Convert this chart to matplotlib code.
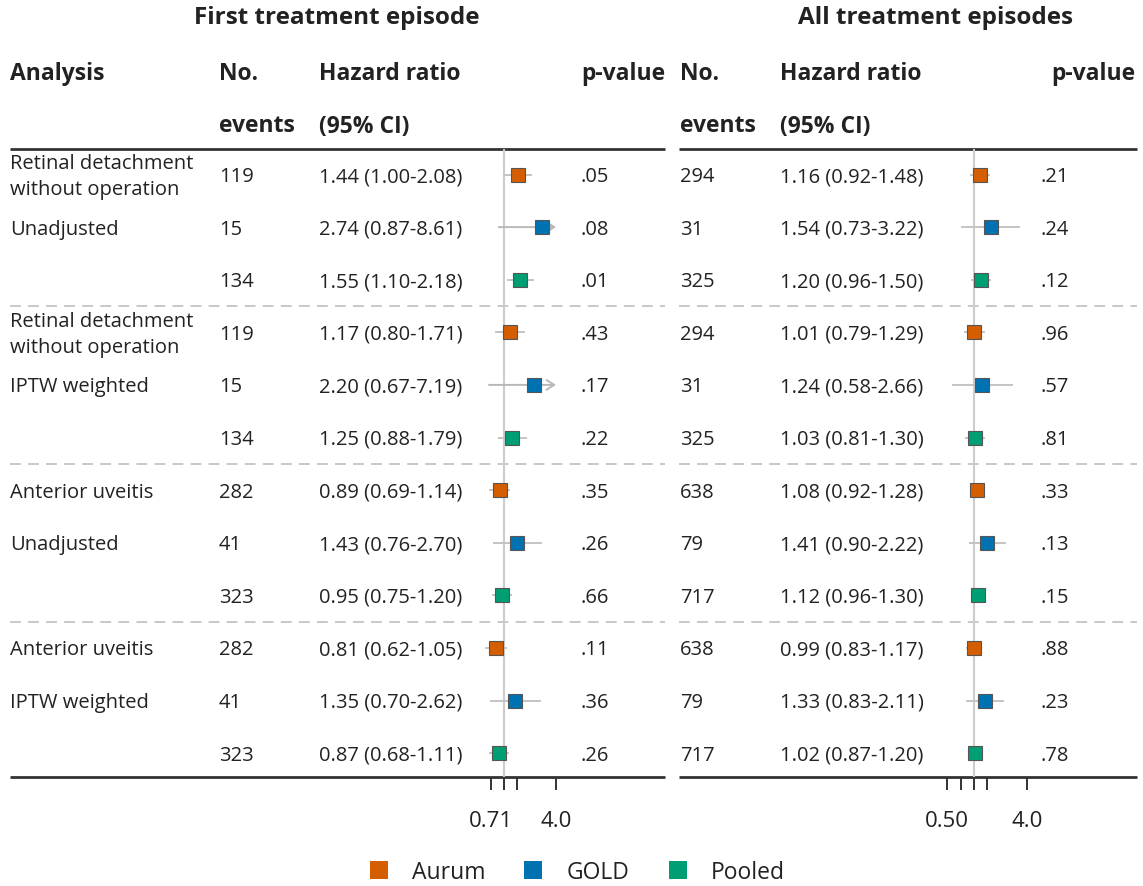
import numpy as np
import matplotlib
matplotlib.use("Agg")
import matplotlib.pyplot as plt
from matplotlib.lines import Line2D

plt.rcParams['font.family'] = ['Open Sans', 'DejaVu Sans']

# ---------------- data ----------------
analysis_labels = ["Retinal detachment\nwithout operation", "Unadjusted", "",
                   "Retinal detachment\nwithout operation", "IPTW weighted", "",
                   "Anterior uveitis", "Unadjusted", "",
                   "Anterior uveitis", "IPTW weighted", ""]
cohorts = ["Aurum", "GOLD", "Pooled"] * 4

first_events = [119, 15, 134, 119, 15, 134, 282, 41, 323, 282, 41, 323]
first_hr = [1.44, 2.74, 1.55, 1.17, 2.20, 1.25, 0.89, 1.43, 0.95, 0.81, 1.35, 0.87]
first_lo = [1.00, 0.87, 1.10, 0.80, 0.67, 0.88, 0.69, 0.76, 0.75, 0.62, 0.70, 0.68]
first_hi = [2.08, 8.61, 2.18, 1.71, 7.19, 1.79, 1.14, 2.70, 1.20, 1.05, 2.62, 1.11]
first_p = [".05", ".08", ".01", ".43", ".17", ".22", ".35", ".26", ".66", ".11", ".36", ".26"]

all_events = [294, 31, 325, 294, 31, 325, 638, 79, 717, 638, 79, 717]
all_hr = [1.16, 1.54, 1.20, 1.01, 1.24, 1.03, 1.08, 1.41, 1.12, 0.99, 1.33, 1.02]
all_lo = [0.92, 0.73, 0.96, 0.79, 0.58, 0.81, 0.92, 0.90, 0.96, 0.83, 0.83, 0.87]
all_hi = [1.48, 3.22, 1.50, 1.29, 2.66, 1.30, 1.28, 2.22, 1.30, 1.17, 2.11, 1.20]
all_p = [".21", ".24", ".12", ".96", ".57", ".81", ".33", ".13", ".15", ".88", ".23", ".78"]

first_ticks = [0.71, 1.0, 1.41, 4.0]
first_ticklabels = ["0.71", "", "", "4.0"]
all_ticks = [0.5, 0.71, 1.0, 1.41, 4.0]
all_ticklabels = ["0.50", "", "", "", "4.0"]

colors = {"Aurum": "#D55E00", "GOLD": "#0072B2", "Pooled": "#009E73"}
clip_hi = 4.0

# ---------------- layout ----------------
W, H = 1143, 887
fig = plt.figure(figsize=(W / 100, H / 100), dpi=100)
bg = fig.add_axes([0, 0, 1, 1])
bg.set_xlim(0, W)
bg.set_ylim(H, 0)
bg.axis("off")

FS = 14.5
FSB = 16.5
TXT = "#222222"
row0, dy = 175.5, 52.6
rows_y = [row0 + dy * i for i in range(12)]
top_line, bot_line = 150, 778
toff = 1.5

panels = [
    dict(title="First treatment episode", tx=337, x0=10, x1=665,
         ev=219, hrx=319, pvx=581, pvh=665, ref=504, ppu=26.0,
         events=first_events, hr=first_hr, lo=first_lo, hi=first_hi, p=first_p,
         ticks=first_ticks, tlabels=first_ticklabels, analysis=True),
    dict(title="All treatment episodes", tx=935, x0=679, x1=1137,
         ev=680, hrx=780, pvx=1041, pvh=1135, ref=974, ppu=26.67,
         events=all_events, hr=all_hr, lo=all_lo, hi=all_hi, p=all_p,
         ticks=all_ticks, tlabels=all_ticklabels, analysis=False),
]

for P in panels:
    bg.text(P["tx"], 18, P["title"], ha="center", va="center", fontsize=17.5,
            fontweight="bold", color=TXT)
    if P["analysis"]:
        bg.text(10, 72 + toff, "Analysis", ha="left", va="center", fontsize=FSB,
                fontweight="bold", color=TXT)
    bg.text(P["ev"], 72 + toff, "No.", ha="left", va="center", fontsize=FSB, fontweight="bold", color=TXT)
    bg.text(P["ev"], 125 + toff, "events", ha="left", va="center", fontsize=FSB, fontweight="bold", color=TXT)
    bg.text(P["hrx"], 72 + toff, "Hazard ratio", ha="left", va="center", fontsize=FSB, fontweight="bold", color=TXT)
    bg.text(P["hrx"], 125 + toff, "(95% CI)", ha="left", va="center", fontsize=FSB, fontweight="bold", color=TXT)
    bg.text(P["pvh"], 72 + toff, "p-value", ha="right", va="center", fontsize=FSB, fontweight="bold", color=TXT)

    bg.plot([P["x0"], P["x1"]], [top_line, top_line], color="#333333", lw=2, solid_capstyle="butt")
    bg.plot([P["x0"], P["x1"]], [bot_line, bot_line], color="#333333", lw=2, solid_capstyle="butt")
    for k in (3, 6, 9):
        yy = (rows_y[k - 1] + rows_y[k]) / 2
        bg.plot([P["x0"], P["x1"]], [yy, yy], color="#c4c4c4", lw=1.3, ls=(0, (6, 4)))

    for i, y in enumerate(rows_y):
        yt = y + toff
        if P["analysis"] and analysis_labels[i]:
            bg.text(10, yt, analysis_labels[i], ha="left", va="center", fontsize=FS,
                    color=TXT, linespacing=1.42)
        bg.text(P["ev"], yt, str(P["events"][i]), ha="left", va="center", fontsize=FS, color=TXT)
        bg.text(P["hrx"], yt, f"{P['hr'][i]:.2f} ({P['lo'][i]:.2f}-{P['hi'][i]:.2f})",
                ha="left", va="center", fontsize=FS, color=TXT)
        bg.text(P["pvx"], yt, P["p"][i], ha="left", va="center", fontsize=FS, color=TXT)

    # forest axes, log2 scale
    xlo, xhi = 0.4, 6.0
    left_px = P["ref"] - P["ppu"] * np.log2(1 / xlo)
    width_px = P["ppu"] * np.log2(xhi / xlo)
    ax = fig.add_axes([left_px / W, 1 - bot_line / H, width_px / W, (bot_line - top_line) / H])
    ax.set_xscale("log", base=2)
    ax.set_xlim(xlo, xhi)
    ax.set_ylim((bot_line - row0) / dy, (top_line - row0) / dy)
    ax.patch.set_alpha(0)
    for s in ax.spines.values():
        s.set_visible(False)
    ax.set_yticks([])
    ax.axvline(1.0, color="#cccccc", lw=1.5, zorder=1)
    for i in range(12):
        lo, hi, hr = P["lo"][i], P["hi"][i], P["hr"][i]
        if hi > clip_hi:
            ax.annotate("", xy=(clip_hi, i), xytext=(lo, i),
                        arrowprops=dict(arrowstyle="->,head_length=0.55,head_width=0.35",
                                        color="#b8b8b8", lw=1.4, shrinkA=0, shrinkB=0),
                        zorder=2)
        else:
            ax.plot([lo, hi], [i, i], color="#c4c4c4", lw=1.4, zorder=2)
        ax.plot([hr], [i], marker="s", ms=10, color=colors[cohorts[i]],
                mec="#555555", mew=0.8, zorder=3)
    ax.set_xticks(P["ticks"])
    ax.set_xticklabels(P["tlabels"])
    ax.xaxis.set_minor_locator(matplotlib.ticker.NullLocator())
    ax.tick_params(axis="x", direction="out", length=9.5, width=1.4, color="#333333",
                   pad=14, labelsize=16, labelcolor=TXT)

# legend
handles = [Line2D([], [], ls="none", marker="s", ms=12.6, color=colors[c], mew=0)
           for c in ["Aurum", "GOLD", "Pooled"]]
fig.legend(handles, ["Aurum", "GOLD", "Pooled"], loc="center", ncol=3,
           bbox_to_anchor=(576 / W, 1 - 873 / H), frameon=False, fontsize=16.5,
           handletextpad=0.95, columnspacing=1.6, handlelength=1.0, labelcolor=TXT,
           borderpad=0.2)

fig.savefig("out.png", dpi=100)
